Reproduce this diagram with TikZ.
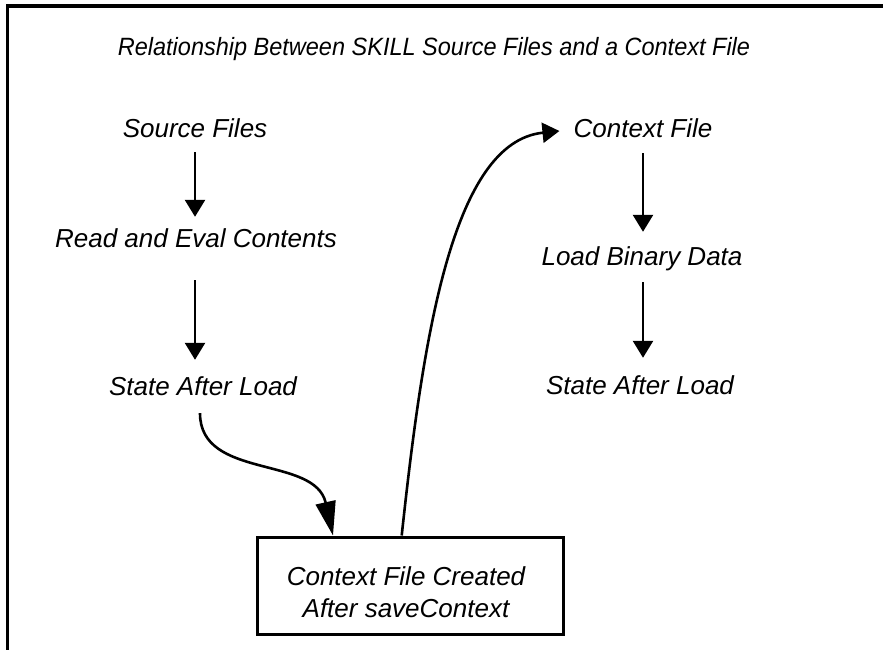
\documentclass[tikz,border=0pt]{standalone}
\usepackage{fontspec}
\setmainfont{Liberation Sans}
\usetikzlibrary{arrows.meta}
\begin{document}
\begin{tikzpicture}[x=1pt,y=-1pt,
  every node/.style={inner sep=0pt},
  heading/.style={font=\fontsize{25}{30}\selectfont\itshape, anchor=base},
  lbl/.style={font=\fontsize{26}{32}\selectfont\itshape, text height=18pt, text depth=0pt, anchor=base},
  flow/.style={line width=2.6pt, -{Triangle[length=17pt,width=20pt]}},
  longflow/.style={line width=2.6pt, -{Triangle[length=34pt,width=20pt]}},
  frame/.style={line width=3.2pt},
  boxstyle/.style={draw, line width=3pt, minimum width=306pt, minimum height=97pt}]
\useasboundingbox (0,0) rectangle (883,650);
% outer frame (only top and left edges fall inside the page)
\draw[frame] (7.5,670) -- (7.5,6) -- (900,6);

% title, slightly condensed
\node[heading] (title) at (434,56) {\scalebox{0.94}[1]{Relationship Between SKILL Source Files and a Context File}};

% left column: loading source files
\node[lbl] (sf) at (195,137) {Source Files};
\node[lbl] (rc) at (196,247) {Read and Eval Contents};
\node[lbl] (sl) at (203,395) {State After Load};

% right column: loading a context file
\node[lbl] (cf) at (643,137) {Context File};
\node[lbl] (lb) at (642,265) {Load Binary Data};
\node[lbl] (rl) at (640,394) {State After Load};

% saved context box
\node[boxstyle] (box) at (410,585.5) {};
\node[font=\fontsize{26}{32}\selectfont\itshape, align=center] (boxtxt) at (406,592)
  {Context File Created\\After saveContext};

% straight steps
\draw[flow, shorten <=15pt, shorten >=12pt] (sf.south) -- (sf.south |- rc.north);
\draw[flow, shorten <=33pt, shorten >=17pt] (rc.south -| sf.south) -- (sf.south |- sl.north);
\draw[flow, shorten <=16pt, shorten >=15pt] (cf.south) -- (cf.south |- lb.north);
\draw[flow, shorten <=17pt, shorten >=18pt] (lb.south -| cf.south) -- (cf.south |- rl.north);

% curved links through the saved context
\draw[longflow] ([shift={(-3,18)}]sl.south) .. controls (200,480) and (315,455) .. ([xshift=-77pt]box.north);
\draw[flow] ([xshift=-8.3pt]box.north) .. controls (423,338) and (452,142) .. ([shift={(-14,3)}]cf.west);
\end{tikzpicture}
\end{document}
